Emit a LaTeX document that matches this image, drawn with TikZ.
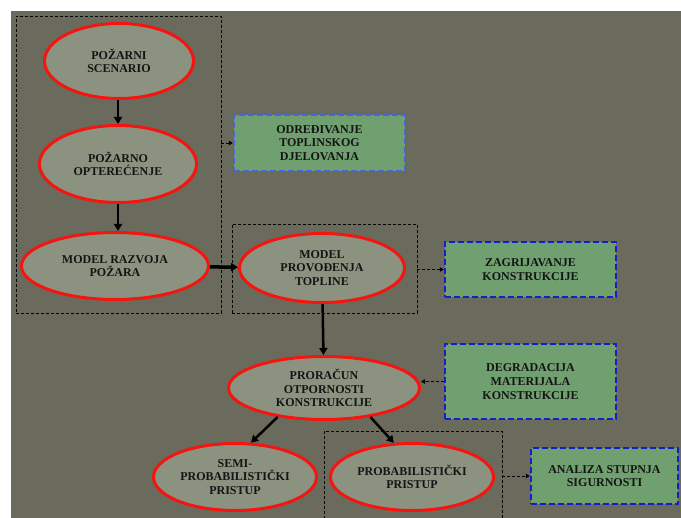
\documentclass[tikz,border=0pt]{standalone}
\usepackage{fontspec}
\setmainfont{Liberation Serif}
\usetikzlibrary{arrows.meta,positioning,shapes.geometric}
\definecolor{bgGray}{RGB}{106,106,93}
\definecolor{ovalFill}{RGB}{139,147,128}
\definecolor{boxFill}{RGB}{112,160,112}
\definecolor{edgeRed}{RGB}{245,20,15}
\definecolor{edgeBlue}{RGB}{20,30,205}
\definecolor{edgeSky}{RGB}{70,100,225}
\definecolor{inkDark}{RGB}{20,20,20}
\begin{document}
\begin{tikzpicture}[x=1pt, y=-1pt,
    oval/.style={ellipse, draw=edgeRed, line width=3pt, fill=ovalFill, inner sep=0pt,
      align=center, text=inkDark, font=\fontsize{12}{13.7}\selectfont\bfseries},
    result/.style={rectangle, draw=edgeBlue, line width=2.5pt, dash pattern=on 6pt off 3pt,
      fill=boxFill, inner sep=0pt, align=center, text=inkDark,
      font=\fontsize{12}{13.7}\selectfont\bfseries},
    group/.style={rectangle, draw=black, line width=0.7pt, dash pattern=on 3pt off 2pt, inner sep=0pt},
    flow/.style={line width=2.5pt, -{Triangle[length=7pt,width=8pt]}},
    link/.style={line width=0.8pt, dash pattern=on 3pt off 2pt, -{Triangle[length=4pt,width=4.5pt]}}]
    % Page and background
    \useasboundingbox (0,0) rectangle (681,518);
    \clip (0,0) rectangle (681,518);
    \fill[white] (0,0) rectangle (681,518);
    \fill[bgGray] (11,11) rectangle (681,518);
    % Dashed groups
    \node[group, minimum width=205, minimum height=297] (grpfire) at (118.5,164.5) {};
    \node[group, minimum width=185, minimum height=89] (grpheat) at (324.5,268.5) {};
    \node[group, minimum width=178, minimum height=109] (grpprob) at (413,485.5) {};
    % Process steps
    \node[oval, minimum width=149, minimum height=75] (scen) at (119,61) {POŽARNI\\SCENARIO};
    \node[oval, minimum width=157, minimum height=77] (load) at (118,164) {POŽARNO\\OPTEREĆENJE};
    \node[oval, minimum width=187, minimum height=67] (fire) at (115,266) {MODEL RAZVOJA\\POŽARA};
    \node[oval, minimum width=165, minimum height=69] (cond) at (322,268) {MODEL\\PROVOĐENJA\\TOPLINE};
    \node[oval, minimum width=191, minimum height=63] (resist) at (324,388) {PRORAČUN\\OTPORNOSTI\\KONSTRUKCIJE};
    \node[oval, minimum width=163, minimum height=67] (semi) at (235,477) {SEMI-\\PROBABILISTIČKI\\PRISTUP};
    \node[oval, minimum width=163, minimum height=67] (prob) at (412,477) {PROBABILISTIČKI\\PRISTUP};
    % Results
    \node[result, draw=edgeSky, minimum width=171, minimum height=56] (action) at (319.5,143) {ODREĐIVANJE\\TOPLINSKOG\\DJELOVANJA};
    \node[result, minimum width=171, minimum height=55] (heating) at (530.5,269.5) {ZAGRIJAVANJE\\KONSTRUKCIJE};
    \node[result, minimum width=171, minimum height=75] (degrad) at (530.5,381.5) {DEGRADACIJA\\MATERIJALA\\KONSTRUKCIJE};
    \node[result, minimum width=147, minimum height=56] (safety) at (604.5,476) {ANALIZA STUPNJA\\SIGURNOSTI};
    % Main flow
    \draw[flow] (scen.south -| load) -- (load);
    \draw[flow] (load) -- (load |- fire.north);
    \draw[flow, line width=3.5pt] (fire) -- (cond);
    \draw[flow] (cond) -- (resist);
    \draw[flow] (resist.-148) -- (semi.65);
    \draw[flow] (resist.-32) -- (prob.118);
    % Dashed links
    \draw[link] (grpfire.east |- action.west) -- (action.west);
    \draw[link] (grpheat.east |- heating.west) -- (heating.west);
    \draw[link] (degrad.west) -- (degrad.west -| resist.east);
    \draw[link] (grpprob.east |- safety.west) -- (safety.west);
\end{tikzpicture}
\end{document}
